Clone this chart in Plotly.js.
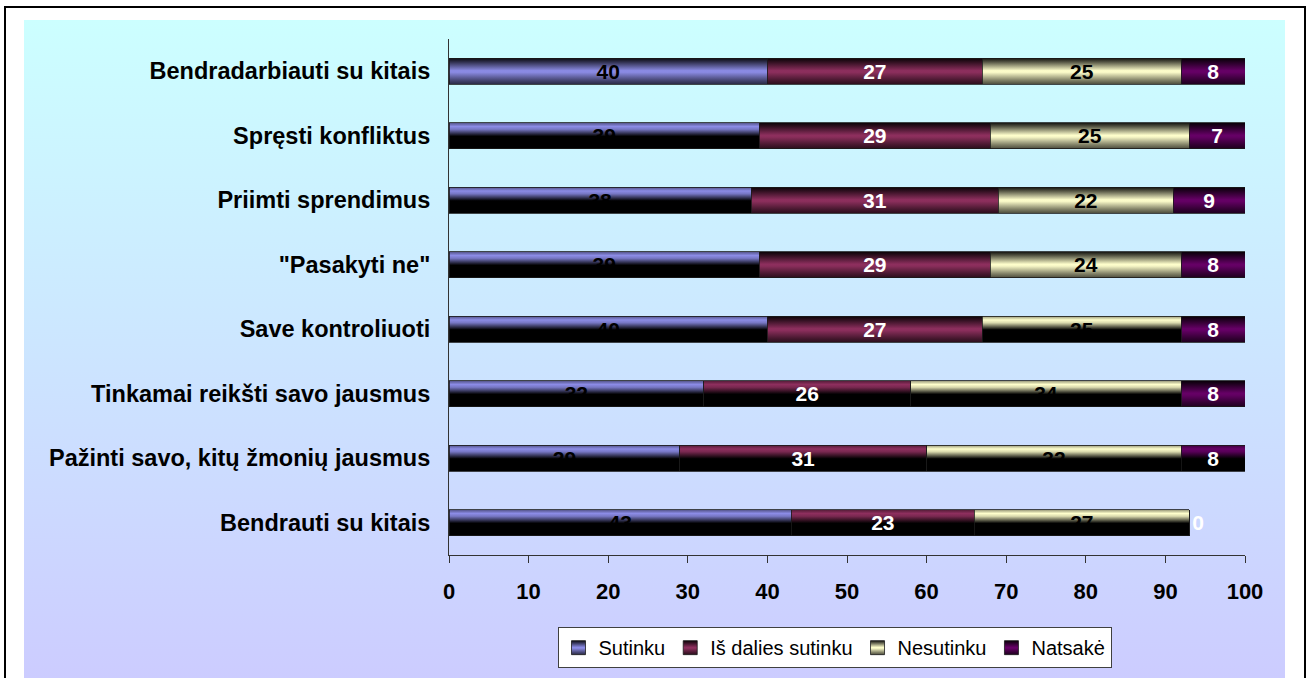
<!DOCTYPE html>
<html>
<head>
<meta charset="utf-8">
<script src="https://cdn.plot.ly/plotly-3.0.1.min.js"></script>
<style>
  html, body { margin:0; padding:0; width:1310px; height:678px; overflow:hidden; background:#ffffff; }
  #frame { position:absolute; left:4px; top:6px; width:1298px; height:720px; border:2px solid #000; box-sizing:content-box; }
  #bg { position:absolute; left:24px; top:20px; width:1261px; height:700px; background:linear-gradient(to bottom, #ccffff 0px, #ccccff 658px); }
  #chart { position:absolute; left:0; top:0; width:1310px; height:678px; }
</style>
</head>
<body>
<div id="frame"></div>
<div id="bg"></div>
<div id="chart"></div>
<script>
// ---- data (rows listed top to bottom) ----
const categories = [
  "Bendradarbiauti su kitais",
  "Spręsti konfliktus",
  "Priimti sprendimus",
  "\"Pasakyti ne\"",
  "Save kontroliuoti",
  "Tinkamai reikšti savo jausmus",
  "Pažinti savo, kitų žmonių jausmus",
  "Bendrauti su kitais"
];
const seriesNames = ["Sutinku", "Iš dalies sutinku", "Nesutinku", "Natsakė"];
const sutinku        = [40, 39, 38, 39, 40, 32, 29, 43];
const isDaliesSutinku = [27, 29, 31, 29, 27, 26, 31, 23];
const nesutinku      = [25, 25, 22, 24, 25, 34, 32, 27];
const natsake        = [8, 7, 9, 8, 8, 8, 8, 0];
const xTicks = [0, 10, 20, 30, 40, 50, 60, 70, 80, 90, 100];

// ---- styles ----
const FONT = "Liberation Sans, Arial, sans-serif";
const midColors = ["#8c8ce6", "#8e2f5e", "#ffffcc", "#660066"];
const labelColors = ["#000000", "#ffffff", "#000000", "#ffffff"];
// segments rendered with a dark lower half in the original picture
const darkLower = [
  [0,1,1,1,1,1,1,1],
  [0,0,0,0,0,1,1,1],
  [0,0,0,0,1,1,1,1],
  [0,0,0,0,0,0,1,0]
];

const allSeries = [sutinku, isDaliesSutinku, nesutinku, natsake];
const traces = allSeries.map((vals, i) => {
  const pos = vals.map(v => (v === 0 ? "outside" : "inside"));
  return {
    type: "bar",
    orientation: "h",
    name: seriesNames[i],
    y: categories,
    x: vals,
    text: vals.map(String),
    textposition: pos,
    insidetextanchor: "middle",
    constraintext: "none",
    textangle: 0,
    cliponaxis: false,
    textfont: { family: FONT, size: 21, color: labelColors[i], weight: "bold" },
    insidetextfont: { family: FONT, size: 21, color: labelColors[i], weight: "bold" },
    outsidetextfont: { family: FONT, size: 21, color: labelColors[i], weight: "bold" },
    marker: { color: midColors[i], line: { color: "#1a1a1a", width: 0.8 } },
    width: 0.4,
    hoverinfo: "none"
  };
});

const layout = {
  width: 1310,
  height: 678,
  barmode: "stack",
  paper_bgcolor: "rgba(0,0,0,0)",
  plot_bgcolor: "rgba(0,0,0,0)",
  margin: { l: 449, r: 65, t: 39, b: 123, pad: 0 },
  showlegend: true,
  font: { family: FONT, color: "#000" },
  xaxis: {
    range: [0, 100],
    tickvals: xTicks,
    ticktext: xTicks.map(String),
    ticks: "outside",
    ticklen: 7,
    tickcolor: "#333",
    tickwidth: 1,
    showline: true,
    linecolor: "#333",
    linewidth: 1,
    showgrid: false,
    zeroline: false,
    automargin: false,
    ticklabelstandoff: 10,
    tickfont: { family: FONT, size: 22, color: "#000", weight: "bold" },
    fixedrange: true
  },
  yaxis: {
    type: "category",
    categoryorder: "array",
    categoryarray: categories,
    range: [7.5, -0.5],
    showline: true,
    linecolor: "#333",
    linewidth: 1,
    showgrid: false,
    zeroline: false,
    automargin: false,
    ticks: "",
    ticklabelstandoff: 13,
    tickfont: { family: FONT, size: 23.5, color: "#000", weight: "bold" },
    fixedrange: true
  },
  legend: {
    orientation: "h",
    xref: "paper",
    x: 0.4843,
    xanchor: "center",
    yref: "container",
    y: 0.075,
    yanchor: "top",
    bgcolor: "#ffffff",
    bordercolor: "#404040",
    borderwidth: 1,
    font: { family: FONT, size: 20, color: "#000" },
    itemwidth: 30,
    traceorder: "normal"
  }
};

function scale(hex, f) {
  const r = parseInt(hex.slice(1,3),16), g = parseInt(hex.slice(3,5),16), b = parseInt(hex.slice(5,7),16);
  const c = v => Math.max(0, Math.min(255, Math.round(v * f)));
  return "rgb(" + c(r) + "," + c(g) + "," + c(b) + ")";
}

function addGradients(svg) {
  const NS = "http://www.w3.org/2000/svg";
  let defs = svg.querySelector("defs");
  if (!defs) { defs = document.createElementNS(NS, "defs"); svg.insertBefore(defs, svg.firstChild); }
  const mk = (id, stops) => {
    const lg = document.createElementNS(NS, "linearGradient");
    lg.setAttribute("id", id);
    lg.setAttribute("x1", "0"); lg.setAttribute("y1", "0");
    lg.setAttribute("x2", "0"); lg.setAttribute("y2", "1");
    stops.forEach(([off, col]) => {
      const s = document.createElementNS(NS, "stop");
      s.setAttribute("offset", off);
      s.setAttribute("stop-color", col);
      lg.appendChild(s);
    });
    defs.appendChild(lg);
  };
  midColors.forEach((c, i) => {
    mk("gN" + i, [["0", scale(c, 0.08)], ["0.15", scale(c, 0.35)], ["0.48", scale(c, 1)], ["0.55", scale(c, 0.97)], ["0.85", scale(c, 0.5)], ["1", scale(c, 0.3)]]);
    mk("gD" + i, [["0", scale(c, 0.6)], ["0.14", scale(c, 1)], ["0.25", scale(c, 0.85)], ["0.52", "rgb(0,0,0)"], ["1", "rgb(0,0,0)"]]);
  });
}

Plotly.newPlot("chart", traces, layout, { staticPlot: true, displayModeBar: false }).then(gd => {
  const svg = gd.querySelector("svg.main-svg");
  addGradients(svg);
  const traceGroups = gd.querySelectorAll(".barlayer .trace.bars");
  traceGroups.forEach((tg, ti) => {
    const pts = tg.querySelectorAll("g.point");
    pts.forEach((p, pi) => {
      const path = p.querySelector("path");
      if (!path) return;
      const dark = darkLower[ti] && darkLower[ti][pi];
      path.style.fill = "url(#" + (dark ? "gD" : "gN") + ti + ")";
    });
  });
  const legendTraces = gd.querySelectorAll(".legend .traces");
  legendTraces.forEach((lt, li) => {
    lt.querySelectorAll(".legendpoints path").forEach(pth => {
      pth.setAttribute("d", "M7,7H-7V-7H7Z");
      pth.style.fill = "url(#gN" + li + ")";
      pth.style.stroke = "#1a1a1a";
      pth.style.strokeWidth = "0.8px";
    });
  });
});
</script>
</body>
</html>
